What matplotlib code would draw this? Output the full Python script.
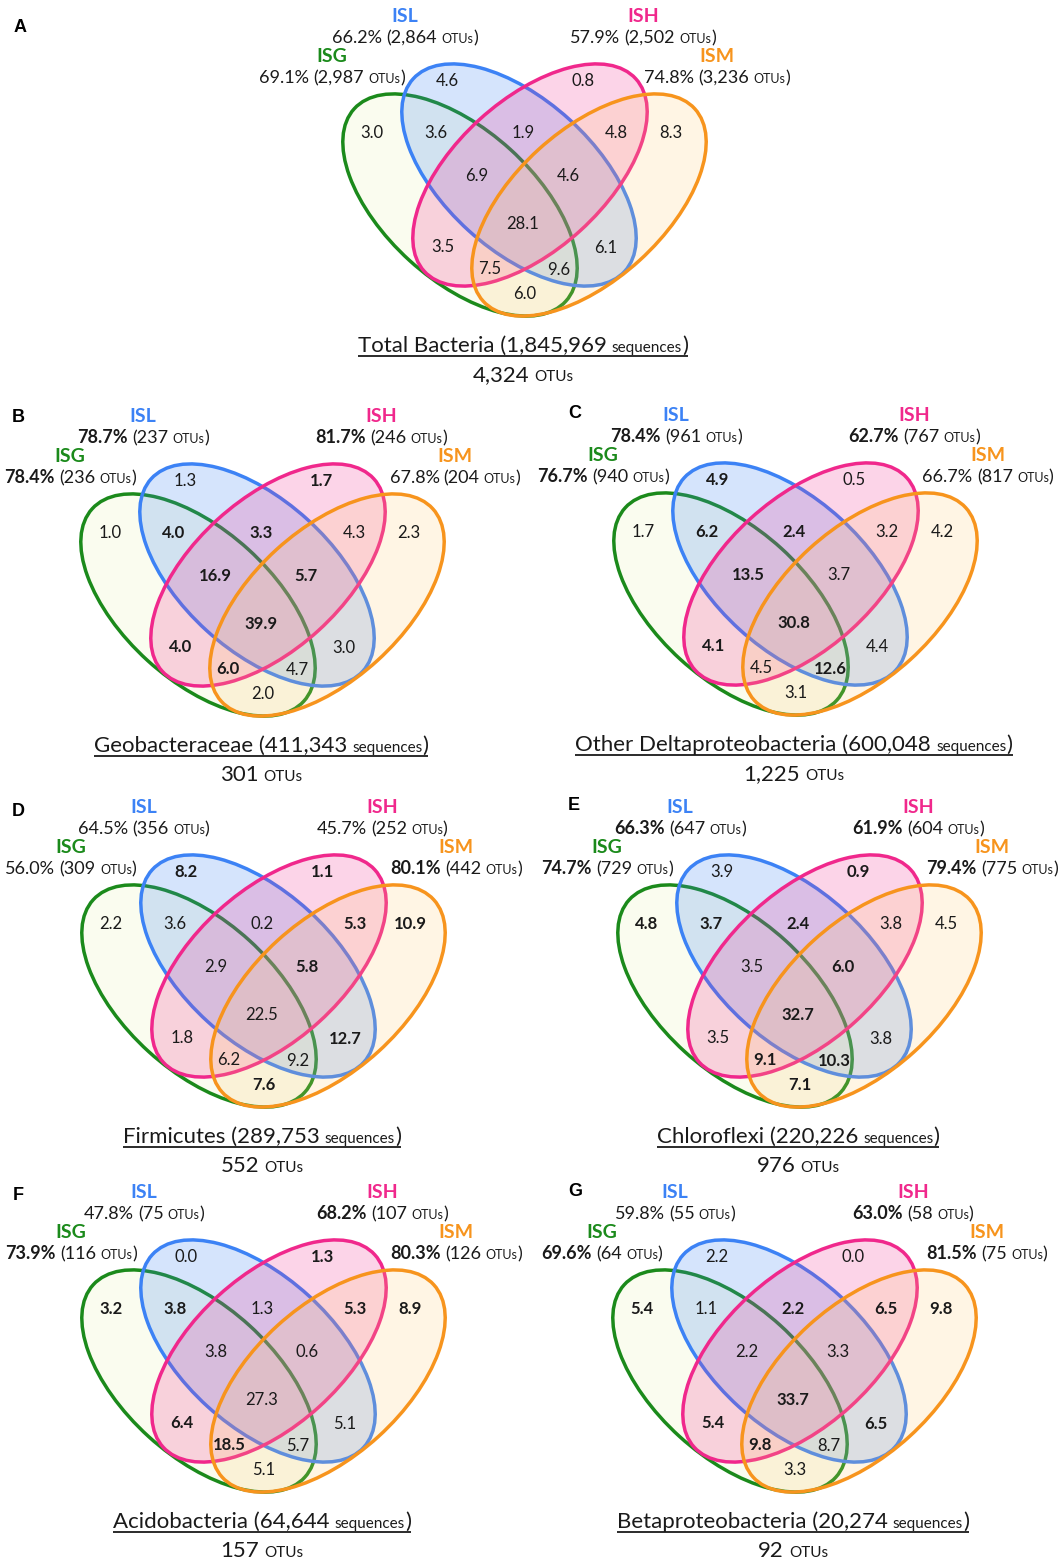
import matplotlib
matplotlib.use("Agg")
import matplotlib.pyplot as plt
from matplotlib.patches import Ellipse
from matplotlib.colors import to_rgba

FONT = "Lato"
W, H = 1062, 1560

# ---------------- data ----------------
set_names = ["ISG", "ISL", "ISH", "ISM"]
set_colors = ["#1B8A1B", "#3C82F5", "#F0288C", "#F7941D"]
set_faces = ["#E6F0AF", "#3C82F5", "#F0288C", "#FFC86E"]
set_alphas = [0.2, 0.21, 0.2, 0.18]

region_keys = ["G", "L", "H", "M", "GL", "LH", "HM", "GLH", "LHM", "GLHM",
               "GH", "LM", "GHM", "GLM", "GM"]

panel_letters = ["A", "B", "C", "D", "E", "F", "G"]
groups = ["Total Bacteria", "Geobacteraceae", "Other Deltaproteobacteria",
          "Firmicutes", "Chloroflexi", "Acidobacteria", "Betaproteobacteria"]
sequences = ["1,845,969", "411,343", "600,048", "289,753", "220,226", "64,644", "20,274"]
total_otus = ["4,324", "301", "1,225", "552", "976", "157", "92"]

# set percentages / OTU counts, order ISG, ISL, ISH, ISM
pct_A = [69.1, 66.2, 57.9, 74.8]; otu_A = [2987, 2864, 2502, 3236]; pbold_A = [0, 0, 0, 0]
pct_B = [78.4, 78.7, 81.7, 67.8]; otu_B = [236, 237, 246, 204]; pbold_B = [1, 1, 1, 0]
pct_C = [76.7, 78.4, 62.7, 66.7]; otu_C = [940, 961, 767, 817]; pbold_C = [1, 1, 1, 0]
pct_D = [56.0, 64.5, 45.7, 80.1]; otu_D = [309, 356, 252, 442]; pbold_D = [0, 0, 0, 1]
pct_E = [74.7, 66.3, 61.9, 79.4]; otu_E = [729, 647, 604, 775]; pbold_E = [1, 1, 1, 1]
pct_F = [73.9, 47.8, 68.2, 80.3]; otu_F = [116, 75, 107, 126]; pbold_F = [1, 0, 1, 1]
pct_G = [69.6, 59.8, 63.0, 81.5]; otu_G = [64, 55, 58, 75]; pbold_G = [1, 0, 1, 1]

# region values, order of region_keys
val_A = [3.0, 4.6, 0.8, 8.3, 3.6, 1.9, 4.8, 6.9, 4.6, 28.1, 3.5, 6.1, 7.5, 9.6, 6.0]
val_B = [1.0, 1.3, 1.7, 2.3, 4.0, 3.3, 4.3, 16.9, 5.7, 39.9, 4.0, 3.0, 6.0, 4.7, 2.0]
val_C = [1.7, 4.9, 0.5, 4.2, 6.2, 2.4, 3.2, 13.5, 3.7, 30.8, 4.1, 4.4, 4.5, 12.6, 3.1]
val_D = [2.2, 8.2, 1.1, 10.9, 3.6, 0.2, 5.3, 2.9, 5.8, 22.5, 1.8, 12.7, 6.2, 9.2, 7.6]
val_E = [4.8, 3.9, 0.9, 4.5, 3.7, 2.4, 3.8, 3.5, 6.0, 32.7, 3.5, 3.8, 9.1, 10.3, 7.1]
val_F = [3.2, 0.0, 1.3, 8.9, 3.8, 1.3, 5.3, 3.8, 0.6, 27.3, 6.4, 5.1, 18.5, 5.7, 5.1]
val_G = [5.4, 2.2, 0.0, 9.8, 1.1, 2.2, 6.5, 2.2, 3.3, 33.7, 5.4, 6.5, 9.8, 8.7, 3.3]

# regions printed in bold
bold_A = []
bold_B = ["H", "GL", "LH", "GLH", "LHM", "GLHM", "GH", "GHM"]
bold_C = ["L", "GL", "LH", "GLH", "GLHM", "GH", "GLM"]
bold_D = ["L", "H", "M", "HM", "LHM", "LM", "GM"]
bold_E = ["G", "H", "GL", "LH", "LHM", "GLHM", "GHM", "GLM", "GM"]
bold_F = ["G", "H", "M", "GL", "HM", "GH", "GHM"]
bold_G = ["G", "M", "LH", "HM", "GLHM", "GH", "LM", "GHM"]

pcts = [pct_A, pct_B, pct_C, pct_D, pct_E, pct_F, pct_G]
otus = [otu_A, otu_B, otu_C, otu_D, otu_E, otu_F, otu_G]
pbolds = [pbold_A, pbold_B, pbold_C, pbold_D, pbold_E, pbold_F, pbold_G]
vals = [val_A, val_B, val_C, val_D, val_E, val_F, val_G]
bolds = [bold_A, bold_B, bold_C, bold_D, bold_E, bold_F, bold_G]

# ---------------- layout ----------------
panel_centers = [(523, 205), (261, 605), (794, 604), (262, 996), (798, 996), (262, 1381), (793, 1381)]
letter_pos = [(20, 27), (18, 418), (575, 413), (18, 812), (574, 805), (18, 1195), (575, 1192)]

# ellipse geometry relative to panel centre (ISG, ISL, ISH, ISM)
ell_off = [(-63, 0), (-4, -30), (7, -30), (66, 0)]
ell_angle = [42.3, 42.3, -42.3, -42.3]
ELL_A, ELL_B = 143, 75

region_off = {"G": (-151, -72), "L": (-76, -124), "H": (60, -124), "M": (148, -72),
              "GL": (-87, -72), "LH": (0, -72), "HM": (93, -72),
              "GLH": (-46, -29), "LHM": (45, -29), "GLHM": (0, 19),
              "GH": (-80, 42), "LM": (83, 43), "GHM": (-33, 64), "GLM": (36, 65),
              "GM": (2, 89)}

# set label anchors (x offset, name baseline, stats baseline)
label_off = [(-191, -143, -122), (-118, -183, -162), (120, -183, -162), (194, -143, -122)]

fig = plt.figure(figsize=(W / 100, H / 100), dpi=100)
ax = fig.add_axes([0, 0, 1, 1])
ax.set_xlim(0, W)
ax.set_ylim(H, 0)
ax.axis("off")
renderer = fig.canvas.get_renderer()

TXT = "#1A1A1A"


def space(fs):
    return 0.23 * fs * 100 / 72


def rich(x, y, parts, ha="center"):
    objs = []
    for s, fs, bold, col, gap in parts:
        t = ax.text(0, y, s, fontsize=fs, fontweight="bold" if bold else "normal",
                    color=col, family=FONT, ha="left", va="baseline")
        objs.append((t, gap))
    widths = [t.get_window_extent(renderer).width for t, _ in objs]
    total = sum(widths) + sum(g for _, g in objs)
    start = x - total / 2 if ha == "center" else x
    cur = start
    for (t, g), w in zip(objs, widths):
        cur += g
        t.set_x(cur)
        cur += w
    return start, cur


for i in range(7):
    cx, cy = panel_centers[i]
    # ellipses: each fill then its outline, so later fills tint earlier outlines
    for k in range(4):
        ox, oy = ell_off[k]
        ax.add_patch(Ellipse((cx + ox, cy + oy), 2 * ELL_A, 2 * ELL_B, angle=ell_angle[k],
                             facecolor=to_rgba(set_faces[k], set_alphas[k]),
                             edgecolor="none", zorder=1 + 2 * k))
        ax.add_patch(Ellipse((cx + ox, cy + oy), 2 * ELL_A, 2 * ELL_B, angle=ell_angle[k],
                             facecolor="none", edgecolor=set_colors[k], lw=2.5,
                             zorder=2 + 2 * k))
    # region values
    for key, v in zip(region_keys, vals[i]):
        dx, dy = region_off[key]
        ax.text(cx + dx, cy + dy, f"{v:.1f}", fontsize=12, family=FONT, color=TXT,
                fontweight="bold" if key in bolds[i] else "normal",
                ha="center", va="center", zorder=20)
    # set labels
    for k in range(4):
        dx, ny, sy = label_off[k]
        ax.text(cx + dx, cy + ny, set_names[k], fontsize=14, fontweight="bold",
                family=FONT, color=set_colors[k], ha="center", va="baseline", zorder=20)
        fs = 13
        rich(cx + dx, cy + sy, [
            (f"{pcts[i][k]:.1f}%", fs, bool(pbolds[i][k]), TXT, 0),
            (f"({otus[i][k]:,}", fs, False, TXT, space(fs)),
            ("OTUs", 9, False, TXT, space(fs)),
            (")", fs, False, TXT, 0),
        ])
    # title
    fs = 16
    x_s, x_e = rich(cx, cy + 147, [
        (f"{groups[i]} ({sequences[i]}", fs, False, TXT, 0),
        ("sequences", 11, False, TXT, space(fs)),
        (")", fs, False, TXT, 0),
    ])
    ax.plot([x_s, x_e], [cy + 151, cy + 151], color=TXT, lw=1.3, solid_capstyle="butt")
    rich(cx, cy + 176, [
        (total_otus[i], fs, False, TXT, 0),
        ("OTUs", 11, False, TXT, space(fs)),
    ])
    # panel letter
    lx, ly = letter_pos[i]
    ax.text(lx, ly, panel_letters[i], fontsize=13, fontweight="bold",
            family="Liberation Sans", color="black", ha="center", va="center")

fig.savefig("out.png", dpi=100, facecolor="white")
